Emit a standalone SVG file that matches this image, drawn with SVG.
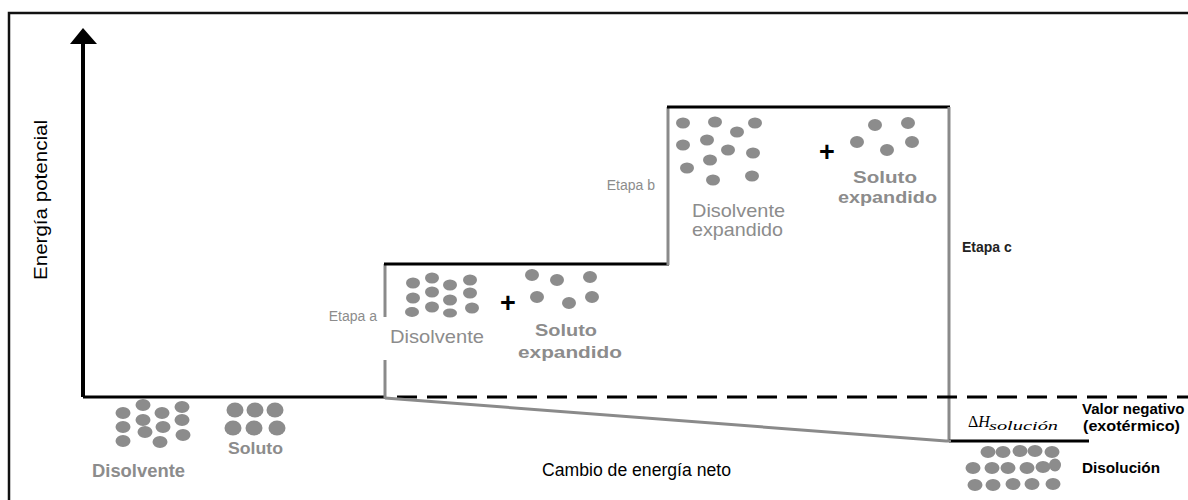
<svg xmlns="http://www.w3.org/2000/svg" width="1188" height="500" viewBox="0 0 1188 500">
  <style>
    .lvl { stroke: #000; stroke-width: 3; fill: none; }
    .step { stroke: #8a8a8a; stroke-width: 3; fill: none; }
    .dash { stroke: #000; stroke-width: 3; stroke-dasharray: 20 10; fill: none; }
    .dot { fill: #8c8c8c; }
    .t { font-family: "Liberation Sans", Arial, sans-serif; }
    .gray { fill: #8c8c8c; }
    .gb { fill: #8c8c8c; font-weight: bold; }
    .blk { fill: #000; }
    .lab { font-size: 14px; }
    .plus { font-size: 27px; font-weight: bold; fill: #000; }
    .math { font-family: "Liberation Serif", "Times New Roman", serif; fill: #000; }
  </style>
  <rect width="1188" height="500" fill="#fff"/>
  <!-- outer frame (right and bottom edges fall off the page) -->
  <path d="M9 502 L9 13 L1190 13" fill="none" stroke="#111" stroke-width="2.5"/>

  <!-- vertical axis -->
  <g id="axis">
    <line x1="83" y1="397" x2="83" y2="42" stroke="#000" stroke-width="4"/>
    <path d="M70 44 L83 28 L97 44 Z" fill="#000"/>
    <text class="t blk" font-size="17.5" textLength="160" lengthAdjust="spacingAndGlyphs" transform="translate(47 200) rotate(-90)" text-anchor="middle">Energía potencial</text>
  </g>

  <!-- energy levels and steps -->
  <g id="connectors">
    <line class="lvl" x1="83" y1="397" x2="386" y2="397"/>
    <line class="step" x1="385" y1="264" x2="385" y2="317"/>
    <line class="step" x1="385" y1="360" x2="385" y2="398"/>
    <line class="lvl" x1="384" y1="264" x2="669" y2="264"/>
    <line class="step" x1="668" y1="107" x2="668" y2="265"/>
    <line class="lvl" x1="667" y1="107" x2="950" y2="107"/>
    <line class="step" x1="949" y1="107" x2="949" y2="442"/>
    <line class="lvl" x1="949" y1="441" x2="1089" y2="441"/>
    <line class="dash" x1="397" y1="397" x2="1188" y2="397"/>
    <path class="step" d="M385 398 L946 441 L951 441"/>
  </g>

  <!-- starting state: solvent and solute apart -->
  <g id="inicio">
    <g class="dot">
      <ellipse cx="123" cy="413" rx="7.5" ry="6"/>
      <ellipse cx="143" cy="405" rx="7.5" ry="6"/>
      <ellipse cx="162" cy="413" rx="7.5" ry="6"/>
      <ellipse cx="182" cy="407" rx="7.5" ry="6"/>
      <ellipse cx="123" cy="427" rx="7.5" ry="6"/>
      <ellipse cx="143" cy="420" rx="7.5" ry="6"/>
      <ellipse cx="163" cy="427" rx="7.5" ry="6"/>
      <ellipse cx="182" cy="420" rx="7.5" ry="6"/>
      <ellipse cx="123" cy="441" rx="7.5" ry="6"/>
      <ellipse cx="145" cy="432" rx="7.5" ry="6"/>
      <ellipse cx="160" cy="442" rx="7.5" ry="6"/>
      <ellipse cx="183" cy="435" rx="7.5" ry="6"/>
      <ellipse cx="235" cy="410" rx="8.5" ry="7.5"/>
      <ellipse cx="255" cy="410" rx="8.5" ry="7.5"/>
      <ellipse cx="275" cy="410" rx="8.5" ry="7.5"/>
      <ellipse cx="233" cy="428" rx="8.5" ry="7.5"/>
      <ellipse cx="254" cy="428" rx="8.5" ry="7.5"/>
      <ellipse cx="277" cy="428" rx="8.5" ry="7.5"/>
    </g>
    <text class="t gb" x="92" y="477" font-size="18" textLength="93" lengthAdjust="spacingAndGlyphs">Disolvente</text>
    <text class="t gb" x="228" y="454" font-size="17" textLength="55" lengthAdjust="spacingAndGlyphs">Soluto</text>
  </g>

  <!-- step a: solute expanded -->
  <g id="etapa-a">
    <text class="t gray lab" x="377" y="321" text-anchor="end">Etapa a</text>
    <g class="dot">
      <ellipse cx="413" cy="283" rx="7" ry="5.5"/>
      <ellipse cx="432" cy="278" rx="7" ry="5.5"/>
      <ellipse cx="450" cy="285" rx="7" ry="5.5"/>
      <ellipse cx="470" cy="280" rx="7" ry="5.5"/>
      <ellipse cx="413" cy="298" rx="7" ry="5.5"/>
      <ellipse cx="432" cy="292" rx="7" ry="5.5"/>
      <ellipse cx="450" cy="300" rx="7" ry="5.5"/>
      <ellipse cx="470" cy="293" rx="7" ry="5.5"/>
      <ellipse cx="412" cy="312" rx="7" ry="5"/>
      <ellipse cx="432" cy="307" rx="7" ry="5.5"/>
      <ellipse cx="450" cy="313" rx="7" ry="4.5"/>
      <ellipse cx="472" cy="308" rx="7" ry="5.5"/>
      <ellipse cx="532" cy="275" rx="7" ry="6"/>
      <ellipse cx="557" cy="280" rx="7" ry="6"/>
      <ellipse cx="590" cy="277" rx="7" ry="6"/>
      <ellipse cx="537" cy="297" rx="7" ry="6"/>
      <ellipse cx="569" cy="303" rx="7" ry="6"/>
      <ellipse cx="592" cy="297" rx="7" ry="6"/>
    </g>
    <text class="t plus" x="508" y="312" text-anchor="middle">+</text>
    <text class="t gray" x="390" y="343" font-size="19" textLength="94" lengthAdjust="spacingAndGlyphs">Disolvente</text>
    <text class="t gb" x="535" y="336" font-size="17" textLength="62" lengthAdjust="spacingAndGlyphs">Soluto</text>
    <text class="t gb" x="518" y="358" font-size="17" textLength="104" lengthAdjust="spacingAndGlyphs">expandido</text>
  </g>

  <!-- step b: solvent expanded -->
  <g id="etapa-b">
    <text class="t gray lab" x="655" y="190" text-anchor="end">Etapa b</text>
    <g class="dot">
      <ellipse cx="683" cy="123" rx="7" ry="5.5"/>
      <ellipse cx="715" cy="122" rx="7" ry="5.5"/>
      <ellipse cx="755" cy="123" rx="7" ry="5.5"/>
      <ellipse cx="737" cy="132" rx="7" ry="5.5"/>
      <ellipse cx="683" cy="145" rx="7" ry="5.5"/>
      <ellipse cx="707" cy="140" rx="7" ry="5.5"/>
      <ellipse cx="728" cy="150" rx="7" ry="5.5"/>
      <ellipse cx="753" cy="153" rx="7" ry="5.5"/>
      <ellipse cx="687" cy="168" rx="7" ry="5.5"/>
      <ellipse cx="710" cy="160" rx="7" ry="5.5"/>
      <ellipse cx="713" cy="180" rx="7" ry="5.5"/>
      <ellipse cx="752" cy="176" rx="7" ry="5.5"/>
      <ellipse cx="875" cy="125" rx="7" ry="6"/>
      <ellipse cx="908" cy="123" rx="7" ry="6"/>
      <ellipse cx="857" cy="142" rx="7" ry="6"/>
      <ellipse cx="887" cy="150" rx="7" ry="6"/>
      <ellipse cx="912" cy="142" rx="7" ry="6"/>
    </g>
    <text class="t plus" x="827" y="161" text-anchor="middle">+</text>
    <text class="t gray" x="692" y="217" font-size="19" textLength="93" lengthAdjust="spacingAndGlyphs">Disolvente</text>
    <text class="t gray" x="692" y="236" font-size="19" textLength="91" lengthAdjust="spacingAndGlyphs">expandido</text>
    <text class="t gb" x="853" y="183" font-size="17" textLength="64" lengthAdjust="spacingAndGlyphs">Soluto</text>
    <text class="t gb" x="838" y="203" font-size="17" textLength="99" lengthAdjust="spacingAndGlyphs">expandido</text>
  </g>

  <!-- step c and enthalpy of solution -->
  <g id="etapa-c">
    <text class="t lab" x="962" y="252" font-weight="bold" fill="#222">Etapa c</text>
    <text class="math" x="968" y="427" font-size="16">Δ<tspan font-style="italic">H</tspan></text>
    <text class="math" x="989" y="430" font-size="13" font-style="italic" textLength="69" lengthAdjust="spacingAndGlyphs">solución</text>
    <text class="t blk" x="1082" y="414" font-size="15" font-weight="bold">Valor negativo</text>
    <text class="t blk" x="1083" y="431" font-size="15" font-weight="bold" textLength="97" lengthAdjust="spacingAndGlyphs">(exotérmico)</text>
  </g>

  <!-- final solution -->
  <g id="disolucion">
    <g class="dot">
      <ellipse cx="988" cy="452" rx="7.5" ry="6"/>
      <ellipse cx="1003" cy="452" rx="7.5" ry="6"/>
      <ellipse cx="1020" cy="451" rx="7.5" ry="6"/>
      <ellipse cx="1035" cy="451" rx="7.5" ry="6"/>
      <ellipse cx="1052" cy="452" rx="7.5" ry="6"/>
      <ellipse cx="973" cy="468" rx="7.5" ry="6"/>
      <ellipse cx="992" cy="468" rx="7.5" ry="6"/>
      <ellipse cx="1008" cy="468" rx="7.5" ry="6"/>
      <ellipse cx="1027" cy="468" rx="7.5" ry="6"/>
      <ellipse cx="1043" cy="467" rx="7.5" ry="6"/>
      <ellipse cx="1055" cy="465" rx="6" ry="6.5"/>
      <ellipse cx="975" cy="485" rx="7.5" ry="6"/>
      <ellipse cx="993" cy="485" rx="7.5" ry="6"/>
      <ellipse cx="1013" cy="484" rx="7.5" ry="6"/>
      <ellipse cx="1032" cy="484" rx="7.5" ry="6"/>
      <ellipse cx="1053" cy="484" rx="7.5" ry="6"/>
    </g>
    <text class="t blk" x="1082" y="473" font-size="15" font-weight="bold" textLength="78" lengthAdjust="spacingAndGlyphs">Disolución</text>
  </g>

  <text class="t blk" x="542" y="476" font-size="17.5" textLength="189" lengthAdjust="spacingAndGlyphs">Cambio de energía neto</text>
</svg>
